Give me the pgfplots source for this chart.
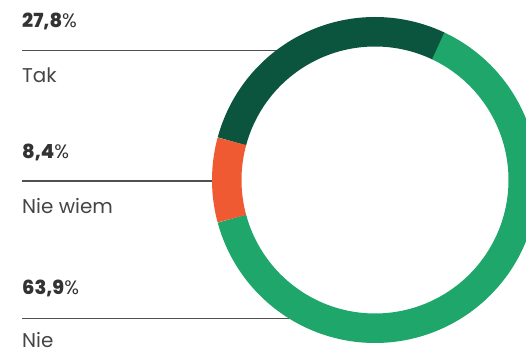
\documentclass[border=0pt]{standalone}
\usepackage{pgfplots}
\pgfplotsset{compat=1.18}
\usepackage{fontspec}
\setmainfont{Poppins}
\newfontfamily\numfont{Poppins ExtraBold}
\definecolor{dkgreen}{HTML}{0B553E}
\definecolor{ltgreen}{HTML}{1FA66A}
\definecolor{orng}{HTML}{F05A32}
\definecolor{numc}{HTML}{333333}
\definecolor{labc}{HTML}{454545}
\definecolor{linec}{HTML}{505050}
% data (percent)
\def\vTak{27.8}
\def\vNW{8.4}
\def\vNie{63.9}
\begin{document}
\begin{tikzpicture}
\pgfmathsetmacro\aA{180-1.8*\vNW-3.6*\vTak}
\pgfmathsetmacro\aB{\aA+3.6*\vTak}
\pgfmathsetmacro\aC{\aB+3.6*\vNW}
\pgfmathsetmacro\aD{\aC+3.6*\vNie}
\def\cx{375}\def\cy{174}\def\rr{148.25}
\begin{axis}[width=526bp,height=354bp,scale only axis,
  xmin=0,xmax=526,ymin=0,ymax=354,axis lines=none,clip=true,
  ticks=none]
% leader lines
\addplot[linec,line width=1.3bp,no markers] coordinates {(22,303.5) (277,303.5)};
\addplot[linec,line width=1.3bp,no markers] coordinates {(22,173) (213,173)};
\addplot[linec,line width=1.3bp,no markers] coordinates {(22,35.5) (289,35.5)};
% ring
\addplot[ltgreen,line width=29.5bp,no markers,domain=\aC:\aD,samples=150] ({\cx+\rr*cos(x)},{\cy+\rr*sin(x)});
\addplot[dkgreen,line width=29.5bp,no markers,domain=\aA:\aB,samples=80] ({\cx+\rr*cos(x)},{\cy+\rr*sin(x)});
\addplot[orng,line width=29.5bp,no markers,domain=\aB:\aC,samples=30] ({\cx+\rr*cos(x)},{\cy+\rr*sin(x)});
% labels
\node[anchor=base west,inner sep=0pt,text=numc,font=\fontsize{19.5}{22}\selectfont] at (axis cs:22,326) {{\numfont 27,8}\%};
\node[anchor=base west,inner sep=0pt,text=labc,font=\fontsize{20}{22}\selectfont] at (axis cs:22,271.3) {Tak};
\node[anchor=base west,inner sep=0pt,text=numc,font=\fontsize{19.5}{22}\selectfont] at (axis cs:22,195.7) {{\numfont 8,4}\%};
\node[anchor=base west,inner sep=0pt,text=labc,font=\fontsize{20}{22}\selectfont] at (axis cs:22,140) {Nie wiem};
\node[anchor=base west,inner sep=0pt,text=numc,font=\fontsize{19.5}{22}\selectfont] at (axis cs:22,59) {{\numfont 63,9}\%};
\node[anchor=base west,inner sep=0pt,text=labc,font=\fontsize{20}{22}\selectfont] at (axis cs:22,7) {Nie};
\end{axis}
\pgfresetboundingbox
\path (current axis.south west) rectangle (current axis.north east);
\end{tikzpicture}
\end{document}
